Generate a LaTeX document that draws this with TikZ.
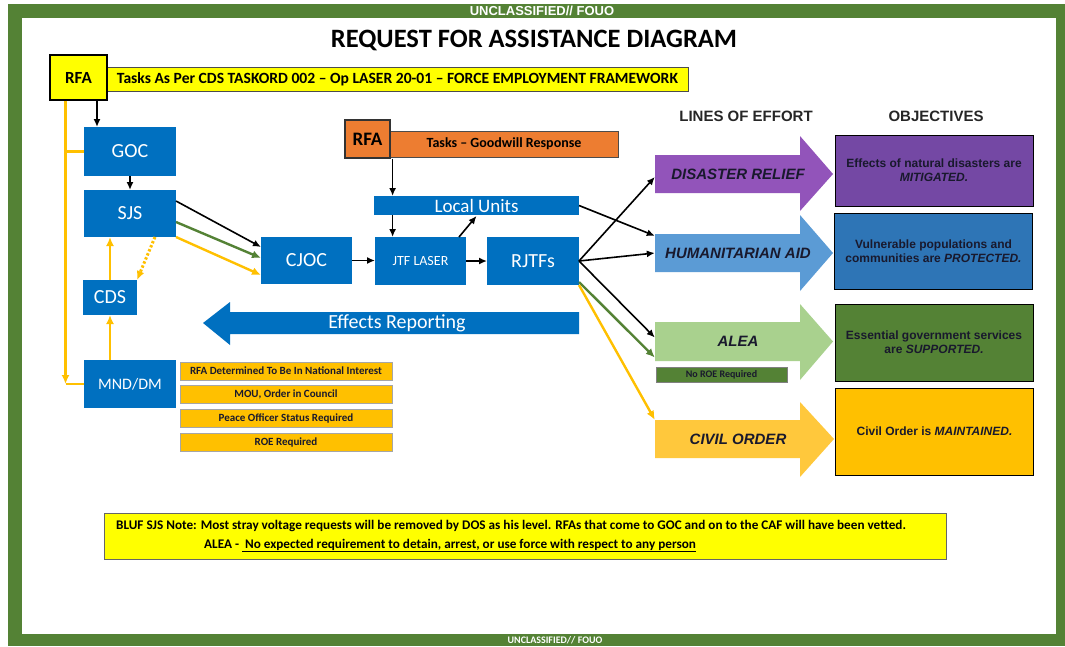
\documentclass[tikz,border=0pt]{standalone}
\usepackage{fontspec}
\setmainfont{Carlito}
\newfontfamily\arialfont{Liberation Sans}
\usetikzlibrary{arrows.meta}
\definecolor{armygreen}{RGB}{84,130,53}
\definecolor{boxblue}{RGB}{0,112,192}
\definecolor{rfayellow}{RGB}{255,255,0}
\definecolor{rfaorange}{RGB}{237,125,49}
\definecolor{rfagold}{RGB}{255,192,0}
\definecolor{drpurple}{RGB}{146,84,186}
\definecolor{objpurple}{RGB}{116,72,164}
\definecolor{halblue}{RGB}{91,155,213}
\definecolor{objblue}{RGB}{46,117,182}
\definecolor{aleagreen}{RGB}{169,209,142}
\definecolor{colight}{RGB}{255,200,60}
\definecolor{inktext}{RGB}{25,25,45}

\begin{document}
\begin{tikzpicture}[x=1pt, y=-1pt]
		\tikzstyle{bbox} = [fill=boxblue, text=white, inner sep=0pt, outer sep=0pt]
		\tikzstyle{cond} = [fill=rfagold, draw=gray!70, inner sep=0pt, font=\bfseries\fontsize{11}{11}\selectfont, text=inktext, minimum width=212, minimum height=18]
		\tikzstyle{obj} = [draw=black, line width=1pt, inner sep=0pt, align=center, text=inktext, font=\arialfont\bfseries\fontsize{12}{14}\selectfont, minimum width=198]
		\tikzstyle{loe} = [inner sep=0pt, minimum width=166, minimum height=38, text=inktext, font=\arialfont\bfseries\itshape\fontsize{15}{15}\selectfont]
		\tikzstyle{blk} = [black, line width=1.6pt, -{Latex[length=8pt,width=7pt]}]
		\tikzstyle{ylw} = [rfagold, line width=2.4pt, -{Latex[length=9pt,width=8pt]}]
		\tikzstyle{grn} = [armygreen, line width=2.4pt, -{Latex[length=9pt,width=8pt]}]
		\useasboundingbox (0,0) rectangle (1065,646);
		\fill[armygreen] (8,4) rectangle (1065,646);
		\fill[white] (22,18) rectangle (1056,634);
		\node[text=white, font=\arialfont\bfseries\fontsize{13}{13}\selectfont] (topmark) at (542,11) {UNCLASSIFIED// FOUO};
		\node[text=white, font=\bfseries\fontsize{10}{10}\selectfont] (botmark) at (555,640) {UNCLASSIFIED// FOUO};
		\node[font=\bfseries\fontsize{26.5}{26.5}\selectfont] (title) at (534,40) {REQUEST FOR ASSISTANCE DIAGRAM};
		\node[fill=rfayellow, draw=black!70, line width=1pt, minimum width=581, minimum height=24, inner sep=0pt, font=\bfseries\fontsize{15.6}{15.6}\selectfont] (band1) at (397.5,79) {Tasks As Per CDS TASKORD 002 – Op LASER 20-01 – FORCE EMPLOYMENT FRAMEWORK};
		\node[fill=rfayellow, draw=black, line width=1.2pt, minimum width=57, minimum height=45, inner sep=0pt, font=\bfseries\fontsize{17}{17}\selectfont] (rfa1) at (78.5,77.5) {RFA};
		\node[fill=rfaorange, draw=black!70, line width=1pt, minimum width=228, minimum height=26, inner sep=0pt, font=\bfseries\fontsize{14}{14}\selectfont] (band2) at (504,144) {Tasks – Goodwill Response};
		\node[fill=rfaorange, draw=black!80, line width=1.2pt, minimum width=45, minimum height=38, inner sep=0pt, font=\bfseries\fontsize{19}{19}\selectfont] (rfa2) at (367.5,139) {RFA};
		\node[bbox, minimum width=92, minimum height=49, font=\fontsize{20}{20}\selectfont] (goc) at (130,151.5) {GOC};
		\node[bbox, minimum width=92, minimum height=47, font=\fontsize{20}{20}\selectfont] (sjs) at (130,213.5) {SJS};
		\node[bbox, minimum width=54, minimum height=35, font=\fontsize{20}{20}\selectfont] (cds) at (110,297.5) {CDS};
		\node[bbox, minimum width=92, minimum height=48, font=\fontsize{16}{16}\selectfont] (mnd) at (130,384) {MND/DM};
		\node[bbox, minimum width=91, minimum height=47, font=\fontsize{20}{20}\selectfont] (cjoc) at (306.5,260.5) {CJOC};
		\node[bbox, minimum width=91, minimum height=48, font=\fontsize{14}{14}\selectfont] (jtf) at (420.5,261) {JTF LASER};
		\node[bbox, minimum width=92, minimum height=48, font=\fontsize{20}{20}\selectfont] (rjtf) at (533,261) {RJTFs};
		\node[bbox, minimum width=205, minimum height=19, font=\fontsize{19}{19}\selectfont] (lu) at (476.5,205.5) {Local Units};
		\fill[boxblue] (203,323) -- (230,302) -- (230,312) -- (579,312) -- (579,334) -- (230,334) -- (230,345) -- cycle;
		\node[text=white, font=\fontsize{20}{20}\selectfont] (er) at (397,323) {Effects Reporting};
		\node[cond] (c1) at (286,371) {RFA Determined To Be In National Interest};
		\node[cond] (c2) at (286,394.5) {MOU, Order in Council};
		\node[cond] (c3) at (286,418) {Peace Officer Status Required};
		\node[cond] (c4) at (286,442) {ROE Required};
		\node[font=\arialfont\bfseries\fontsize{15}{15}\selectfont, text=black!85] (loehead) at (746,116) {LINES OF EFFORT};
		\node[font=\arialfont\bfseries\fontsize{15}{15}\selectfont, text=black!85] (objhead) at (936,116) {OBJECTIVES};
		\fill[drpurple] (655,155) -- (800,155) -- (800,136) -- (833,174) -- (800,211) -- (800,193) -- (655,193) -- cycle;
		\fill[halblue] (655,234) -- (800,234) -- (800,215) -- (833,253) -- (800,291) -- (800,272) -- (655,272) -- cycle;
		\fill[aleagreen] (655,322) -- (800,322) -- (800,304) -- (833,341.5) -- (800,380) -- (800,361) -- (655,361) -- cycle;
		\fill[colight] (655,420) -- (800,420) -- (800,402) -- (834,439) -- (800,477) -- (800,458) -- (655,458) -- cycle;
		\node[loe] (dr) at (738,174) {DISASTER RELIEF};
		\node[loe] (ha) at (738,253) {HUMANITARIAN AID};
		\node[loe] (alea) at (738,341.5) {ALEA};
		\node[loe] (co) at (738,439) {CIVIL ORDER};
		\node[fill=armygreen, draw=gray, inner sep=0pt, minimum width=131, minimum height=15, text=inktext, font=\bfseries\fontsize{10}{10}\selectfont] (noroe) at (721.5,374.5) {No ROE Required};
		\node[obj, fill=objpurple, minimum height=71] (o1) at (934,170.5) {Effects of natural disasters are\\ \textit{MITIGATED.}};
		\node[obj, fill=objblue, minimum height=76] (o2) at (933.5,251) {Vulnerable populations and\\ communities are \textit{PROTECTED.}};
		\node[obj, fill=armygreen, minimum height=77] (o3) at (934,342.5) {Essential government services\\ are \textit{SUPPORTED.}};
		\node[obj, fill=rfagold, minimum height=87] (o4) at (934.5,431.5) {Civil Order is \textit{MAINTAINED.}};
		\node[fill=rfayellow, draw=black!60, line width=1pt, minimum width=842, minimum height=46, inner sep=0pt] (bluf) at (525,536) {};
		\node[anchor=west, align=left, inner sep=0pt, font=\bfseries\fontsize{13.2}{19}\selectfont] (bluftext) at (116,536) {BLUF SJS Note: Most stray voltage requests will be removed by DOS as his level. RFAs that come to GOC and on to the CAF will have been vetted.\\ \hspace*{88pt}ALEA - \underline{\ No expected requirement to detain, arrest, or use force with respect to any person}};
		\draw[blk] ([xshift=18.5pt]rfa1.south) -- ([xshift=18.5pt]rfa1.south |- goc.north);
		\coordinate (ycorner) at ([xshift=-13pt]rfa1.south |- mnd.west);
		\draw[ylw] ([xshift=-13pt]rfa1.south) -- (ycorner);
		\draw[rfagold, line width=2.4pt] (ycorner) -- (mnd.west);
		\draw[rfagold, line width=2.4pt] (ycorner |- goc.west) -- (goc.west);
		\draw[blk] (goc) -- (sjs);
		\draw[ylw] (cds.north) -- (cds.north |- sjs.south);
		\draw[ylw] (cds.south |- mnd.north) -- (cds.south);
		\draw[ylw, dotted, line width=3pt] ([xshift=25pt]sjs.south) -- (cds.north east);
		\draw[blk] ([yshift=12.5pt]sjs.east) -- ([yshift=13.5pt]cjoc.west);
		\draw[grn] ([yshift=-8.5pt]sjs.east) -- ([yshift=2.5pt]cjoc.west);
		\draw[ylw] (sjs.south east) -- ([yshift=-14.5pt]cjoc.west);
		\draw[blk] (cjoc.east) -- (cjoc.east -| jtf.west);
		\draw[blk] (jtf.east) -- (jtf.east -| rjtf.west);
		\draw[blk] ([xshift=2pt]rfa2.south east) -- ([xshift=2pt]rfa2.south east |- lu.north);
		\draw[blk] ([xshift=2pt]rfa2.south east |- lu.south) -- ([xshift=2pt]rfa2.south east |- jtf.north);
		\draw[blk] ([xshift=38.5pt]jtf.north) -- ([yshift=-1pt]lu.south);
		\draw[blk] (lu.east) -- ([yshift=-2pt]ha.north west);
		\draw[blk] (rjtf.east) -- ([yshift=-3pt]dr.west);
		\draw[blk] (rjtf.east) -- (ha.west);
		\draw[blk] (rjtf.east) -- ([yshift=4pt]alea.west);
		\draw[grn] ([yshift=3pt]rjtf.south east) -- ([yshift=-16pt]alea.west);
		\draw[ylw] (rjtf.south east) -- (co.north west);
\end{tikzpicture}
\end{document}
